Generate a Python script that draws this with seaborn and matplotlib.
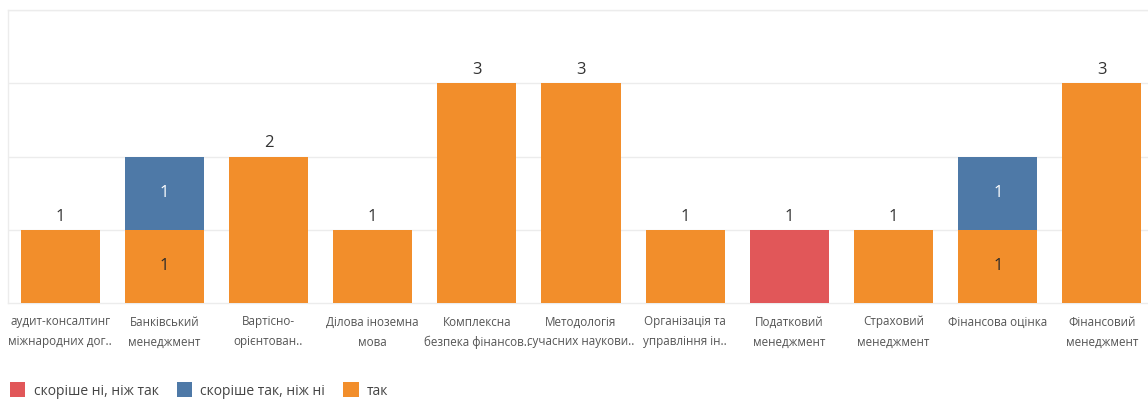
import numpy as np
import pandas as pd
import seaborn as sns
import matplotlib.pyplot as plt
from matplotlib.patches import Patch

courses = ['аудит-консалтинг\nміжнародних дог..', 'Банківський\nменеджмент', 'Вартісно-\nорієнтован..',
           'Ділова іноземна\nмова', 'Комплексна\nбезпека фінансов..', 'Методологія\nсучасних наукови..',
           'Організація та\nуправління ін..', 'Податковий\nменеджмент', 'Страховий\nменеджмент',
           'Фінансова оцінка', 'Фінансовий\nменеджмент']
tak = [1, 1, 2, 1, 3, 3, 1, 0, 1, 1, 3]
skorishe_tak = [0, 1, 0, 0, 0, 0, 0, 0, 0, 1, 0]
skorishe_ni = [0, 0, 0, 0, 0, 0, 0, 1, 0, 0, 0]

labels = ['скоріше ні, ніж так', 'скоріше так, ніж ні', 'так']
colors = {'так': '#F28E2B', 'скоріше так, ніж ні': '#4E79A7', 'скоріше ні, ніж так': '#E15759'}

sns.set_style('white')
plt.rcParams['font.family'] = ['Open Sans', 'DejaVu Sans']

df = pd.DataFrame({'course': courses, 'так': tak,
                   'скоріше так, ніж ні': skorishe_tak, 'скоріше ні, ніж так': skorishe_ni})
# stack from bottom: так, скоріше так, скоріше ні
df['c1'] = df['так']
df['c2'] = df['c1'] + df['скоріше так, ніж ні']
df['c3'] = df['c2'] + df['скоріше ні, ніж так']

fig = plt.figure(figsize=(11.48, 4.05), dpi=100)
ax = fig.add_axes([8 / 1148, 1 - 303 / 405, 1146 / 1148, 293 / 405])

for col, name in [('c3', 'скоріше ні, ніж так'), ('c2', 'скоріше так, ніж ні'), ('c1', 'так')]:
    sns.barplot(data=df, x='course', y=col, color=colors[name], width=0.76,
                saturation=1, ax=ax, linewidth=0, zorder=3)

# labels: inside segments when stacked, above the bar otherwise
for i, row in df.iterrows():
    segs = [(row['так'], 0, 'так'), (row['скоріше так, ніж ні'], row['c1'], 'скоріше так, ніж ні'),
            (row['скоріше ні, ніж так'], row['c2'], 'скоріше ні, ніж так')]
    segs = [s for s in segs if s[0] > 0]
    if len(segs) > 1:
        for v, b, name in segs:
            tc = 'white' if name != 'так' else '#2a2a2a'
            ax.text(i, b + v / 2, f'{v:d}', ha='center', va='center', fontsize=12, color=tc, zorder=5)
    else:
        ax.text(i, row['c3'] + 0.07, f"{row['c3']:d}", ha='center', va='bottom', fontsize=12,
                color='#333333', zorder=5)

ax.set_xlim(-0.5, len(courses) - 0.5)
ax.set_ylim(0, 4)
ax.set_yticks([1, 2, 3, 4])
ax.yaxis.grid(True, color='#ececec', linewidth=1, zorder=0)
ax.set_yticklabels([])
ax.tick_params(axis='y', length=0)
ax.set_xlabel('')
ax.set_ylabel('')
ax.set_xticks(range(len(courses)))
ax.set_xticklabels(courses, fontsize=8.4, color='#555555', linespacing=1.7)
ax.tick_params(axis='x', length=0, pad=9)
ax.set_xticks(np.arange(len(courses)) - 0.5, minor=True)
ax.tick_params(axis='x', which='minor', length=7, color='#e6e6e6', width=1)

for s in ['top', 'left', 'bottom']:
    ax.spines[s].set_color('#ececec')
    ax.spines[s].set_linewidth(1)
ax.spines['right'].set_visible(False)

handles = [Patch(facecolor=colors[l], edgecolor='none', label=l) for l in labels]
fig.legend(handles=handles, loc='lower left', bbox_to_anchor=(-0.002, -0.015), ncol=3, frameon=False,
           fontsize=10, handlelength=1.1, handleheight=1.3, handletextpad=0.6, columnspacing=1.3,
           labelcolor='#444444')

fig.savefig('out.png', dpi=100)
